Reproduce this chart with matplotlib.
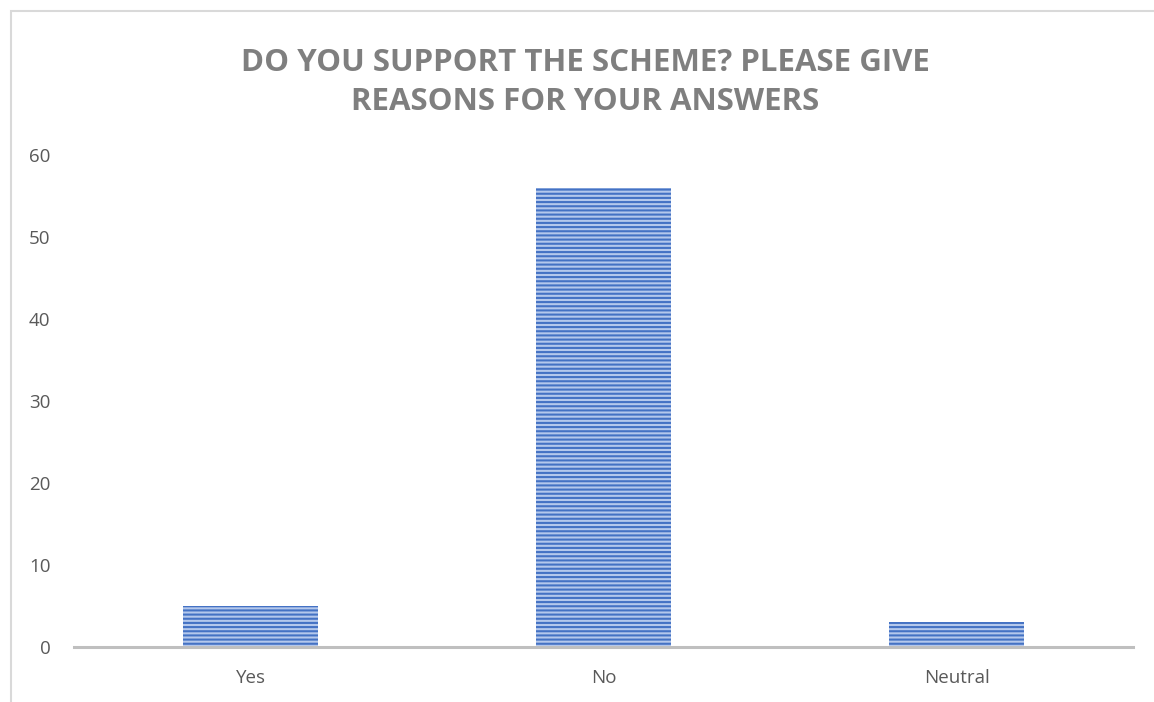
import matplotlib
matplotlib.use("Agg")
import matplotlib.pyplot as plt
from matplotlib.patches import Rectangle

categories = ["Yes", "No", "Neutral"]
counts = [5, 56, 3]
yticks = [0, 10, 20, 30, 40, 50, 60]
title = "DO YOU SUPPORT THE SCHEME? PLEASE GIVE\nREASONS FOR YOUR ANSWERS"

plt.rcParams["font.family"] = ["Open Sans", "DejaVu Sans"]
plt.rcParams["hatch.linewidth"] = 1.5

fig = plt.figure(figsize=(11.54, 7.02), dpi=100)
ax = fig.add_axes([74 / 1154, 1 - 647 / 702, (1133 - 74) / 1154, (647 - 155) / 702])

x = range(len(categories))
ax.bar(x, counts, width=0.38, color="#b4c8ec", edgecolor="#4472c4",
       linewidth=0, hatch="----")

ax.set_xlim(-0.5, len(categories) - 0.5)
ax.set_ylim(0, 60)
ax.set_yticks(yticks)
ax.set_xticks(list(x))
ax.set_xticklabels(categories)
ax.tick_params(axis="both", length=0, labelsize=13.5, labelcolor="#595959")
ax.tick_params(axis="y", pad=17)
ax.tick_params(axis="x", pad=16)
for s in ["top", "right", "left"]:
    ax.spines[s].set_visible(False)
ax.spines["bottom"].set_color("#bfbfbf")
ax.spines["bottom"].set_linewidth(2.2)

fig.text(0.507, 0.8825, title, ha="center", va="center", fontsize=22.5,
         fontweight="bold", color="#7f7f7f", linespacing=1.4)

# chart frame (cropped on right and bottom)
fig.patches.append(Rectangle((10.5 / 1154, -0.1), 1.2, 1.1 - 10.5 / 702,
                             transform=fig.transFigure, fill=False,
                             edgecolor="#d9d9d9", linewidth=1.5))

fig.savefig("out.png", dpi=100)
